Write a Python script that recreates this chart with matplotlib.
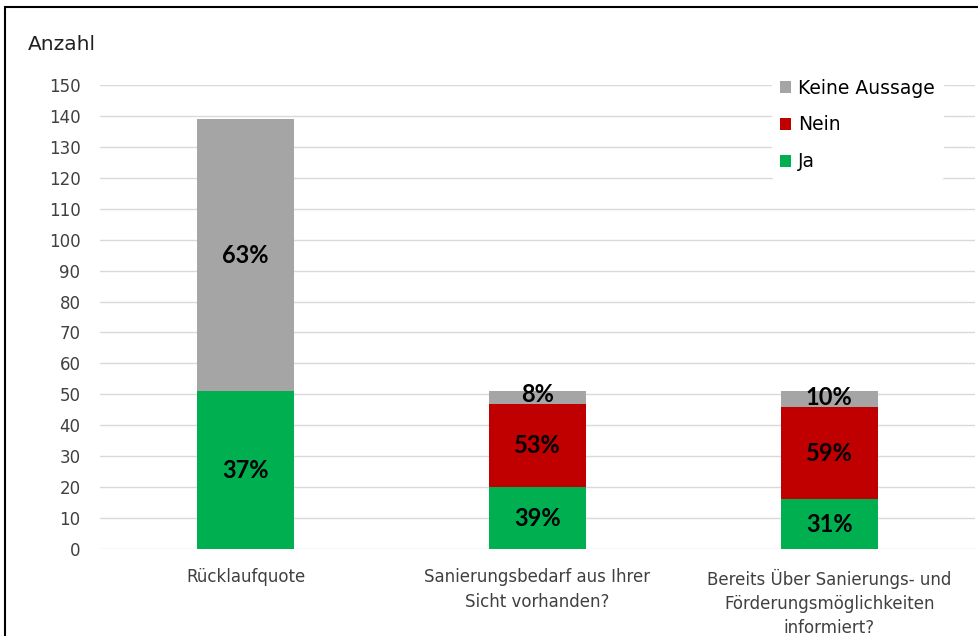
import matplotlib.pyplot as plt
from matplotlib.patches import Rectangle

categories = ["Rücklaufquote",
              "Sanierungsbedarf aus Ihrer\nSicht vorhanden?",
              "Bereits Über Sanierungs- und\nFörderungsmöglichkeiten\ninformiert?"]
ja = [51, 20, 16]
nein = [0, 27, 30]
keine = [88, 4, 5]
ja_pct = ["37%", "39%", "31%"]
nein_pct = [None, "53%", "59%"]
keine_pct = ["63%", "8%", "10%"]

plt.rcParams['font.family'] = ['DejaVu Sans']

fig = plt.figure(figsize=(9.79, 6.36), dpi=100)
ax = fig.add_axes([0.102, 0.1368, 0.894, 0.7296])

x = range(len(categories))
w = 0.333
c_ja, c_nein, c_keine = "#00b050", "#c00000", "#a5a5a5"

bottom2 = [a + b for a, b in zip(ja, nein)]
ax.bar(x, ja, w, color=c_ja, label="Ja", zorder=2)
ax.bar(x, nein, w, bottom=ja, color=c_nein, label="Nein", zorder=2)
ax.bar(x, keine, w, bottom=bottom2, color=c_keine, label="Keine Aussage", zorder=2)

lab = dict(ha="center", va="center", fontsize=17, fontweight="bold", color="black",
           family=["Lato", "DejaVu Sans"], zorder=3)
for i in x:
    ax.text(i, ja[i] / 2, ja_pct[i], **lab)
    if nein_pct[i]:
        ax.text(i, ja[i] + nein[i] / 2, nein_pct[i], **lab)
    ax.text(i, bottom2[i] + max(keine[i] / 2, 3), keine_pct[i], **lab)

ax.set_xlim(-0.5, 2.5)
ax.set_ylim(0, 150)
ax.set_yticks(range(0, 151, 10))
ax.set_xticks(list(x))
ax.set_xticklabels(categories, fontsize=12, color="#404040", linespacing=1.45)
ax.tick_params(axis="y", labelsize=12, labelcolor="#404040", length=0, pad=14)
ax.tick_params(axis="x", length=0, pad=14)
ax.grid(axis="y", color="#d9d9d9", linewidth=1, zorder=0)
for s in ax.spines.values():
    s.set_visible(False)

fig.text(28 / 979, 1 - 45 / 636, "Anzahl", fontsize=14.5, color="#202020", va="center", ha="left")

h, l = ax.get_legend_handles_labels()
leg = ax.legend(h[::-1], l[::-1], loc="upper left", bbox_to_anchor=(0.768, 1.03),
                frameon=True, fontsize=13.5, handlelength=0.6, handleheight=0.6,
                handletextpad=0.4, labelspacing=0.95, borderaxespad=0)
leg.get_frame().set_facecolor("white")
leg.get_frame().set_edgecolor("white")
leg.get_frame().set_alpha(1)

fig.patches.append(Rectangle((5 / 979, -0.05), 1.1, 1 - 7 / 636 + 0.05,
                             transform=fig.transFigure, fill=False,
                             edgecolor="black", linewidth=1.5))

fig.savefig("out.png", dpi=100)
